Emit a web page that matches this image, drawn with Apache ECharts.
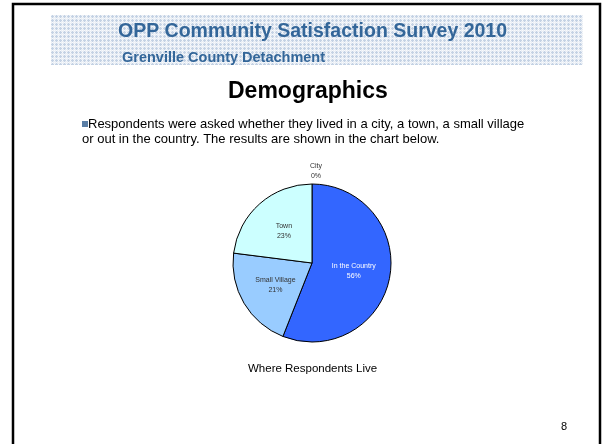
<!DOCTYPE html>
<html lang="en" style="height:100%">
<head>
    <meta charset="UTF-8">
    <title>Where Respondents Live</title>
    <script src="https://cdn.jsdelivr.net/npm/echarts@6/dist/echarts.min.js"></script>
</head>
<body style="height:100%;margin:0">
<div id="main" style="width:602px;height:444px;"></div>
<script type="text/javascript">
    // data
    var categories = ['City', 'In the Country', 'Small Village', 'Town'];
    var shares = [0, 56, 21, 23];
    var sliceColors = ['#cc99ff', '#3366ff', '#99ccff', '#ccffff'];
    var labelColors = ['#333333', '#ffffff', '#333333', '#333333'];

    // little tile for the dotted header band
    var tile = document.createElement('canvas');
    tile.width = 4; tile.height = 4;
    var tc = tile.getContext('2d');
    tc.fillStyle = '#e9eef5';
    tc.fillRect(0, 0, 4, 4);
    tc.fillStyle = '#c4d2e4';
    tc.fillRect(0, 0, 4, 1);
    tc.fillRect(0, 0, 1, 4);
    tc.fillStyle = '#f8fafc';
    tc.fillRect(2, 2, 1, 1);
    tc.fillRect(2, 0, 1, 1);
    tc.fillRect(0, 2, 1, 1);

    var myChart = echarts.init(document.getElementById('main'));
    var option = {
        backgroundColor: '#ffffff',
        textStyle: {fontFamily: 'Liberation Sans, Arial, sans-serif'},
        title: [
            {
                text: 'OPP Community Satisfaction Survey 2010',
                left: 113, top: 17,
                textStyle: {fontSize: 19.5, fontWeight: 'bold', color: '#336699', fontFamily: 'Liberation Sans'}
            },
            {
                text: 'Grenville County Detachment',
                left: 117, top: 45,
                textStyle: {fontSize: 14.5, fontWeight: 'bold', color: '#336699', fontFamily: 'Liberation Sans'}
            },
            {
                text: 'Demographics',
                left: 223, top: 75,
                textStyle: {fontSize: 23, fontWeight: 'bold', color: '#000000', fontFamily: 'Liberation Sans'}
            },
            {
                text: 'Where Respondents Live',
                left: 243, top: 358,
                textStyle: {fontSize: 11.5, fontWeight: 'normal', color: '#000000', fontFamily: 'Liberation Sans'}
            },
            {
                text: '8',
                left: 556, top: 416,
                textStyle: {fontSize: 11, fontWeight: 'normal', color: '#000000', fontFamily: 'Liberation Sans'}
            }
        ],
        graphic: [
            {
                type: 'rect', z: -10,
                shape: {x: 13, y: 4, width: 587, height: 460},
                style: {fill: '#ffffff', stroke: '#000000', lineWidth: 2.5}
            },
            {
                type: 'rect', z: -9,
                shape: {x: 51, y: 15, width: 532, height: 50},
                style: {fill: {image: tile, repeat: 'repeat'}}
            },
            {
                type: 'rect', z: -8,
                shape: {x: 82, y: 121, width: 6, height: 6},
                style: {fill: '#5b7fa6'}
            },
            {
                type: 'text', left: 88, top: 118,
                style: {
                    text: 'Respondents were asked whether they lived in a city, a town, a small village',
                    fontSize: 13, fill: '#000000', fontFamily: 'Liberation Sans'
                }
            },
            {
                type: 'text', left: 82, top: 133,
                style: {
                    text: 'or out in the country. The results are shown in the chart below.',
                    fontSize: 13, fill: '#000000', fontFamily: 'Liberation Sans'
                }
            }
        ],
        series: [
            {
                name: 'Where Respondents Live',
                type: 'pie',
                center: [312, 263],
                radius: 79,
                startAngle: 90,
                clockwise: true,
                avoidLabelOverlap: false,
                itemStyle: {borderColor: '#000000', borderWidth: 1},
                label: {
                    show: true,
                    position: 'inside',
                    fontSize: 7,
                    lineHeight: 10,
                    fontFamily: 'Liberation Sans',
                    formatter: '{b}\n{d}%'
                },
                labelLine: {show: false},
                labelLayout: function (params) {
                    // the empty slice's label sits centred above the pie
                    if (shares[params.dataIndex] === 0) {
                        return {align: 'center', dx: 9};
                    }
                },
                emphasis: {disabled: true},
                data: categories.map(function (name, i) {
                    var item = {
                        name: name,
                        value: shares[i],
                        itemStyle: {color: sliceColors[i]},
                        label: {color: labelColors[i]}
                    };
                    if (shares[i] === 0) {
                        item.label.position = 'outside';
                        item.labelLine = {show: false, length: 13, length2: 0};
                    }
                    return item;
                })
            }
        ]
    };
    myChart.setOption(option);
</script>
</body>
</html>
